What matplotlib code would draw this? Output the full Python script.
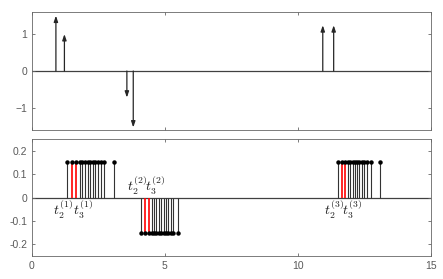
import numpy as np
import matplotlib
matplotlib.use("Agg")
import matplotlib.pyplot as plt

plt.rcParams['font.family'] = ['Liberation Sans', 'DejaVu Sans']
plt.rcParams['mathtext.fontset'] = 'cm'

# top panel: impulses (arrows)
imp_t = [0.9, 1.22, 3.57, 3.81, 10.94, 11.35]
imp_a = [1.5, 1.0, -0.72, -1.53, 1.24, 1.24]

# bottom panel: three groups of sample stems
g1_t = [1.33, 1.50, 1.65, 1.80, 1.90, 2.00, 2.10, 2.19, 2.29, 2.38, 2.47, 2.58, 2.71, 3.07]
g2_t = [4.10, 4.27, 4.39, 4.50, 4.58, 4.68, 4.77, 4.86, 4.95, 5.04, 5.13, 5.24, 5.32, 5.51]
g3_t = [11.52, 11.68, 11.78, 11.90, 11.98, 12.07, 12.16, 12.24, 12.32, 12.41, 12.50, 12.61, 12.77, 13.08]
g_amp = [0.15, -0.15, 0.15]
red_idx = [1, 2]  # t2, t3 in each group
labels_pos = ['below', 'above', 'below']

xticks = [0, 5, 10, 15]
yticks_top = [-1, 0, 1]
yticks_bot = [-0.2, -0.1, 0, 0.1, 0.2]

axcol = '0.4'
txtcol = '0.35'

fig = plt.figure(figsize=(4.43, 2.79), dpi=100)
ax1 = fig.add_axes([0.0722, 0.534, 0.900, 0.423])
ax2 = fig.add_axes([0.0722, 0.0824, 0.900, 0.419])

for ax in (ax1, ax2):
    ax.set_xlim(0, 15)
    ax.set_xticks(xticks)
    ax.tick_params(direction='in', length=2.5, width=0.6, colors=axcol,
                   labelcolor=txtcol, labelsize=7.5, top=True, right=True)
    for s in ax.spines.values():
        s.set_color(axcol)
        s.set_linewidth(0.6)
    ax.axhline(0, color='0.25', lw=0.9, zorder=1)

# top panel
ax1.set_ylim(-1.6, 1.6)
ax1.set_yticks(yticks_top)
ax1.set_xticklabels([])
for t, a in zip(imp_t, imp_a):
    ax1.annotate('', xy=(t, a), xytext=(t, 0),
                 arrowprops=dict(arrowstyle='-|>,head_length=0.35,head_width=0.12',
                                 color='0.15', lw=0.9, shrinkA=0, shrinkB=0))

# bottom panel
ax2.set_ylim(-0.25, 0.25)
ax2.set_yticks(yticks_bot)
ax2.set_yticklabels(['-0.2', '-0.1', '0', '0.1', '0.2'])
for gi, (ts, amp, pos) in enumerate(zip([g1_t, g2_t, g3_t], g_amp, labels_pos)):
    ts = np.array(ts)
    cols = ['red' if i in red_idx else '0.2' for i in range(len(ts))]
    lws = [1.2 if i in red_idx else 0.8 for i in range(len(ts))]
    ax2.vlines(ts, 0, amp, colors=cols, linewidths=lws, zorder=2)
    ax2.plot(ts, np.full(len(ts), amp), 'o', color='k', ms=2.2, zorder=3)
    n = gi + 1
    t2, t3 = ts[red_idx[0]], ts[red_idx[1]]
    if pos == 'below':
        y, va = -0.006, 'top'
    else:
        y, va = 0.004, 'bottom'
    ax2.text(t2 + 0.04, y, r'$t_2^{(%d)}$' % n, ha='right', va=va, fontsize=10, color='0.1')
    ax2.text(t3 - 0.12, y, r'$t_3^{(%d)}$' % n, ha='left', va=va, fontsize=10, color='0.1')

fig.savefig('out.png', dpi=100)
